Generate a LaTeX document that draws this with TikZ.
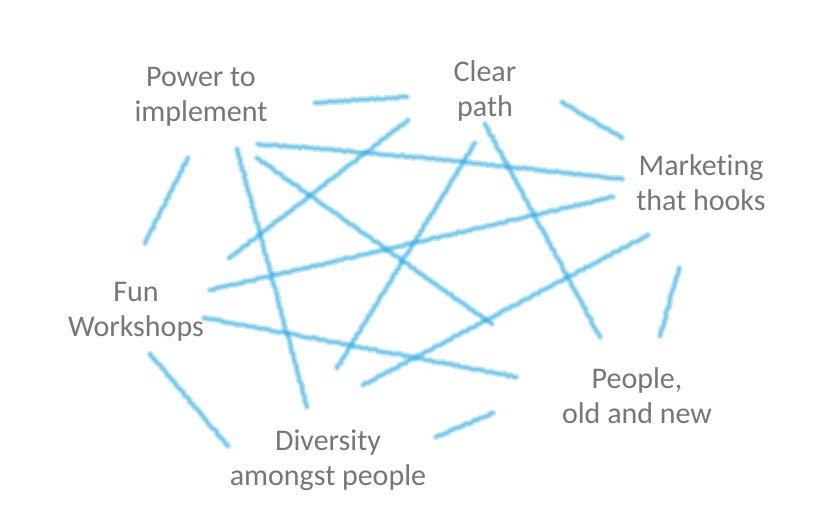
\documentclass[tikz,border=0pt]{standalone}
\usepackage{fontspec}
\setmainfont[Ligatures=NoCommon]{Carlito}
\usetikzlibrary{decorations.pathmorphing}
\definecolor{crayonblue}{RGB}{41,171,226}
\definecolor{labelgray}{RGB}{118,118,118}
\tikzset{
  crayon/.style={crayonblue, line cap=round, line width=6.5pt, opacity=0.3,
    decorate, decoration={random steps, segment length=3pt, amplitude=0.7pt},
    postaction={draw, crayonblue, line width=3pt, opacity=0.45}},
  lbl/.style={text=labelgray, align=center, font=\fontsize{30}{35}\selectfont, inner sep=0pt}
}
\begin{document}
\begin{tikzpicture}[x=1pt,y=-1pt]
\useasboundingbox (0,0) rectangle (819,525);
% labels
\node[lbl] (power) at (201,97) {Power to\\implement};
\node[lbl] (clear) at (485,91) {Clear\\path};
\node[lbl] (market) at (701,183) {Marketing\\that hooks};
\node[lbl] (fun) at (136,312) {Fun\\Workshops};
\node[lbl] (people) at (637,396) {People,\\old and new};
\node[lbl] (divers) at (328,460) {Diversity\\amongst people};
% crayon strokes
\draw[crayon] (315,103) -- (407,97);
\draw[crayon] (258,144) .. controls (400,155) .. (622,179);
\draw[crayon] (257,158) -- (492,324);
\draw[crayon] (229,258) -- (408,120);
\draw[crayon] (237,149) -- (307,407);
\draw[crayon] (145,243) -- (188,158);
\draw[crayon] (210,290) -- (613,197);
\draw[crayon] (204,318) .. controls (350,345) .. (516,377);
\draw[crayon] (337,368) -- (475,143);
\draw[crayon] (363,385) -- (648,235);
\draw[crayon] (485,124) -- (600,337);
\draw[crayon] (562,102) -- (622,138);
\draw[crayon] (660,336) -- (679,268);
\draw[crayon] (436,437) -- (493,413);
\draw[crayon] (150,354) -- (228,446);
\end{tikzpicture}
\end{document}
